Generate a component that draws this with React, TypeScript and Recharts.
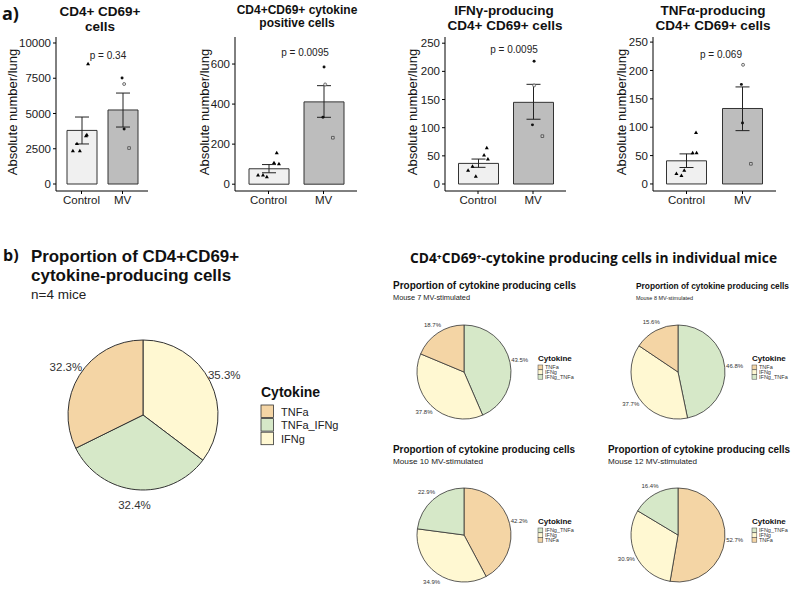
import React from 'react';
import { ComposedChart, Bar, XAxis, YAxis, ZAxis, Scatter, ErrorBar, Cell, PieChart, Pie } from 'recharts';

const FONT = '"Liberation Sans", Arial, Helvetica, sans-serif';

const groups = ['Control', 'MV'];

// a1: CD4+ CD69+ cells
const cellsMean = [3800, 5250];
const cellsLow = [2840, 4040];
const cellsHigh = [4750, 6450];
const cellsCtrl = [8510, 3475, 3400, 2840, 2340, 2340];
const cellsCtrlJitter = [0.16, 0.13, 0.11, -0.11, -0.21, -0.04];
const cellsMv = [7520, 7090, 3900, 2550];
const cellsMvJitter = [-0.01, 0.04, 0.04, 0.16];
const cellsMvShape = ['filled', 'open', 'filled', 'square'];
const cellsTicks = [0, 2500, 5000, 7500, 10000];

// a2: cytokine positive cells
const cytoMean = [77, 411];
const cytoLow = [57, 334];
const cytoHigh = [98, 492];
const cytoCtrl = [155, 106, 101, 44, 44, 36];
const cytoCtrlJitter = [0.15, 0.1, 0.19, -0.19, -0.1, -0.03];
const cytoMv = [585, 498, 334, 232];
const cytoMvJitter = [0.01, 0.03, -0.01, 0.17];
const cytoMvShape = ['filled', 'open', 'filled', 'square'];
const cytoTicks = [0, 200, 400, 600];

// a3: IFNg-producing
const ifngMean = [36.6, 145];
const ifngLow = [29.6, 115];
const ifngHigh = [44.3, 177];
const ifngCtrl = [64, 51, 44, 31, 24, 13];
const ifngCtrlJitter = [0.16, 0.11, 0.18, -0.1, -0.18, -0.04];
const ifngMv = [218, 175, 105, 85];
const ifngMvJitter = [0.02, 0.02, -0.01, 0.17];
const ifngMvShape = ['filled', 'open', 'filled', 'square'];

// a4: TNFa-producing
const tnfMean = [40.8, 133];
const tnfLow = [29, 94];
const tnfHigh = [53, 171];
const tnfCtrl = [90, 54.4, 54.4, 23.6, 17.7, 14.2];
const tnfCtrlJitter = [0.17, 0.11, 0.18, -0.04, -0.18, -0.09];
const tnfMv = [210, 175.5, 107.6, 35.5];
const tnfMvJitter = [0.01, -0.02, 0.0, 0.15];
const tnfMvShape = ['open', 'filled', 'filled', 'square'];

const smallTicks = [0, 50, 100, 150, 200, 250];

// b: pies
const pooledNames = ['IFNg', 'TNFa_IFNg', 'TNFa'];
const pooledValues = [35.3, 32.4, 32.3];
const mouse7Names = ['IFNg_TNFa', 'IFNg', 'TNFa'];
const mouse7Values = [43.5, 37.8, 18.7];
const mouse8Names = ['IFNg_TNFa', 'IFNg', 'TNFa'];
const mouse8Values = [46.8, 37.7, 15.6];
const mouse10Names = ['TNFa', 'IFNg', 'IFNg_TNFa'];
const mouse10Values = [42.2, 34.9, 22.9];
const mouse12Names = ['TNFa', 'IFNg', 'IFNg_TNFa'];
const mouse12Values = [52.7, 30.9, 16.4];

const pooledLegend = ['TNFa', 'TNFa_IFNg', 'IFNg'];
const legendA = ['TNFa', 'IFNg', 'IFNg_TNFa'];
const legendB = ['IFNg_TNFa', 'IFNg', 'TNFa'];

const COLORS: Record<string, string> = {
  TNFa: '#F4D5A5',
  IFNg: '#FFF8D2',
  IFNg_TNFa: '#D6E8C8',
  TNFa_IFNg: '#D6E8C8',
};

const BAR_FILL = ['#F0F0F0', '#BDBDBD'];

function BarPanel(props: any) {
  const { left, width, axisWidth, plotRight, pad, barSize, domain, ticks, mean, low, high, ctrl, ctrlJit, mv, mvJit, mvShape } = props;
  const data = groups.map((g, i) => ({ group: g, mean: mean[i], err: [mean[i] - low[i], high[i] - mean[i]] }));
  const ctrlPts = ctrl.map((v: number, i: number) => ({ x: 1 + ctrlJit[i], y: v }));
  const mvPts = mv.map((v: number, i: number) => ({ x: 2 + mvJit[i], y: v, s: mvShape[i] }));
  const right = left + width - plotRight;
  return (
    <div style={{ position: 'absolute', left, top: 0 }}>
      <ComposedChart width={width} height={215} data={data} margin={{ top: 37, right, bottom: 4, left: 0 }}>
        <XAxis xAxisId="cat" dataKey="group" type="category" padding={{ left: pad, right: pad }} height={20}
          tickSize={3} tickMargin={2} axisLine={{ stroke: '#000' }} tickLine={{ stroke: '#000' }}
          tick={{ fill: '#1a1a1a', fontSize: 11.5, fontFamily: FONT }} interval={0} />
        <XAxis xAxisId="num" dataKey="x" type="number" domain={[0.5, 2.5]} padding={{ left: pad, right: pad }} hide allowDataOverflow />
        <YAxis width={axisWidth} domain={domain} ticks={ticks} allowDataOverflow tickSize={3} tickMargin={2}
          axisLine={{ stroke: '#000' }} tickLine={{ stroke: '#000' }} interval={0}
          tick={{ fill: '#1a1a1a', fontSize: 11.5, fontFamily: FONT }} />
        <ZAxis range={[7, 7]} />
        <Bar xAxisId="cat" dataKey="mean" barSize={barSize} stroke="#333" strokeWidth={1} isAnimationActive={false}>
          {data.map((d, i) => <Cell key={d.group} fill={BAR_FILL[i]} />)}
          <ErrorBar dataKey="err" width={7} stroke="#222" strokeWidth={1} />
        </Bar>
        <Scatter xAxisId="num" data={ctrlPts} dataKey="y" shape="triangle" fill="#000" isAnimationActive={false} />
        <Scatter xAxisId="num" data={mvPts.filter((p: any) => p.s === 'filled')} dataKey="y" shape="circle" fill="#111" isAnimationActive={false} />
        <Scatter xAxisId="num" data={mvPts.filter((p: any) => p.s === 'open')} dataKey="y" shape="circle" fill="#e6e6e6" stroke="#555" strokeWidth={0.8} isAnimationActive={false} />
        <Scatter xAxisId="num" data={mvPts.filter((p: any) => p.s === 'square')} dataKey="y" shape="square" fill="#d0d0d0" stroke="#444" strokeWidth={0.8} isAnimationActive={false} />
      </ComposedChart>
    </div>
  );
}

const makeLabel = (factor: number, fontSize: number, color: string) => (p: any) => {
  const r = p.outerRadius * factor;
  const a = (-p.midAngle * Math.PI) / 180;
  return (
    <text x={p.cx + r * Math.cos(a)} y={p.cy + r * Math.sin(a)} textAnchor="middle" dominantBaseline="central"
      fontSize={fontSize} fill={color} fontFamily={FONT}>
      {Number(p.value).toFixed(1)}%
    </text>
  );
};

function PieBox(props: any) {
  const { cx, cy, r, names, values, factor, fontSize, strokeWidth } = props;
  const data = names.map((n: string, i: number) => ({ name: n, value: values[i] }));
  const w = r * 4;
  const h = r * 4;
  const left = cx - w / 2;
  const top = cy - h / 2;
  return (
    <div style={{ position: 'absolute', left, top }}>
      <PieChart width={w} height={h} margin={{ top: 0, right: 0, bottom: 0, left: 0 }}>
        <Pie data={data} dataKey="value" nameKey="name" cx={w / 2} cy={h / 2} outerRadius={r} innerRadius={0}
          startAngle={90} endAngle={-270} stroke="#333" strokeWidth={strokeWidth} labelLine={false}
          label={makeLabel(factor, fontSize, '#333')} isAnimationActive={false}>
          {data.map((d: any) => <Cell key={d.name} fill={COLORS[d.name]} />)}
        </Pie>
      </PieChart>
    </div>
  );
}

function SmallLegend({ x, y, items }: { x: number; y: number; items: string[] }) {
  return (
    <g fontFamily={FONT}>
      <text x={x} y={y} fontSize={8} fontWeight="bold" fill="#111">Cytokine</text>
      {items.map((it, i) => (
        <g key={it}>
          <rect x={x} y={y + 4 + i * 4.8} width={4.8} height={4.6} fill={COLORS[it]} stroke="#444" strokeWidth={0.5} />
          <text x={x + 7} y={y + 8.2 + i * 4.8} fontSize={5.5} fill="#333">{it}</text>
        </g>
      ))}
    </g>
  );
}

function SmallTitle({ x, y, title, sub, tw, sw, fs, ss }: any) {
  return (
    <g fontFamily={FONT}>
      <text x={x} y={y} fontSize={fs} fontWeight="bold" fill="#111" textLength={tw} lengthAdjust="spacingAndGlyphs">{title}</text>
      <text x={x} y={y + 11} fontSize={ss} fill="#222" textLength={sw} lengthAdjust="spacingAndGlyphs">{sub}</text>
    </g>
  );
}

export default function App() {
  const ylab = (x: number) => (
    <text x={x} y={112} transform={`rotate(-90 ${x} 112)`} textAnchor="middle" dominantBaseline="central" fontSize={13} fill="#111">
      Absolute number/lung
    </text>
  );
  return (
    <div style={{ position: 'absolute', left: 0, top: 0, width: 800, height: 589, background: '#fff', overflow: 'hidden', fontFamily: FONT }}>
      <BarPanel left={0} width={152} axisWidth={56} plotRight={148} pad={5} barSize={30} domain={[-496, 10425]} ticks={cellsTicks}
        mean={cellsMean} low={cellsLow} high={cellsHigh} ctrl={cellsCtrl} ctrlJit={cellsCtrlJitter} mv={cellsMv} mvJit={cellsMvJitter} mvShape={cellsMvShape} />
      <BarPanel left={200} width={160} axisWidth={35} plotRight={357} pad={6} barSize={40} domain={[-34, 735]} ticks={cytoTicks}
        mean={cytoMean} low={cytoLow} high={cytoHigh} ctrl={cytoCtrl} ctrlJit={cytoCtrlJitter} mv={cytoMv} mvJit={cytoMvJitter} mvShape={cytoMvShape} />
      <BarPanel left={400} width={170} axisWidth={45} plotRight={566} pad={5.5} barSize={40} domain={[-12.4, 261]} ticks={smallTicks}
        mean={ifngMean} low={ifngLow} high={ifngHigh} ctrl={ifngCtrl} ctrlJit={ifngCtrlJitter} mv={ifngMv} mvJit={ifngMvJitter} mvShape={ifngMvShape} />
      <BarPanel left={600} width={180} axisWidth={53} plotRight={776} pad={5.5} barSize={40} domain={[-12.4, 259]} ticks={smallTicks}
        mean={tnfMean} low={tnfLow} high={tnfHigh} ctrl={tnfCtrl} ctrlJit={tnfCtrlJitter} mv={tnfMv} mvJit={tnfMvJitter} mvShape={tnfMvShape} />

      <PieBox cx={143} cy={415} r={75} names={pooledNames} values={pooledValues} factor={1.21} fontSize={11.5} strokeWidth={1} />
      <PieBox cx={464} cy={372} r={47} names={mouse7Names} values={mouse7Values} factor={1.21} fontSize={6} strokeWidth={0.8} />
      <PieBox cx={678} cy={372} r={47} names={mouse8Names} values={mouse8Values} factor={1.21} fontSize={6} strokeWidth={0.8} />
      <PieBox cx={464} cy={535} r={47} names={mouse10Names} values={mouse10Values} factor={1.21} fontSize={6} strokeWidth={0.8} />
      <PieBox cx={678} cy={535} r={47} names={mouse12Names} values={mouse12Values} factor={1.21} fontSize={6} strokeWidth={0.8} />

      <svg width={800} height={589} style={{ position: 'absolute', left: 0, top: 0, pointerEvents: 'none' }} fontFamily={FONT}>
        <text x={2} y={20} fontSize={18} fontWeight="bold" fontFamily='"Open Sans", sans-serif' fill="#111">a)</text>
        <g fontWeight="bold" fill="#111" textAnchor="middle">
          <text x={100} y={16} fontSize={13.5}>CD4+ CD69+</text>
          <text x={100} y={31} fontSize={13.5}>cells</text>
          <text x={297} y={14} fontSize={12}>CD4+CD69+ cytokine</text>
          <text x={297} y={27} fontSize={12}>positive cells</text>
          <text x={504} y={15} fontSize={13.5}>IFNγ-producing</text>
          <text x={505} y={30} fontSize={13.5}>CD4+ CD69+ cells</text>
          <text x={713} y={15} fontSize={13.5}>TNFα-producing</text>
          <text x={713} y={30} fontSize={13.5}>CD4+ CD69+ cells</text>
        </g>
        <g fontSize={10} fill="#222" textAnchor="middle" dominantBaseline="central">
          <text x={108} y={55}>p = 0.34</text>
          <text x={305} y={52}>p = 0.0095</text>
          <text x={514} y={49}>p = 0.0095</text>
          <text x={721} y={54}>p = 0.069</text>
        </g>
        {ylab(12)}
        {ylab(204)}
        {ylab(412)}
        {ylab(621)}

        <text x={3} y={261} fontSize={16} fontWeight="bold" fontFamily='"Open Sans", sans-serif' fill="#111">b)</text>
        <text x={31} y={262} fontSize={17} fontWeight="bold" fill="#111" textLength={208} lengthAdjust="spacingAndGlyphs">Proportion of CD4+CD69+</text>
        <text x={31} y={280.5} fontSize={17} fontWeight="bold" fill="#111">cytokine-producing cells</text>
        <text x={31} y={299} fontSize={13.5} fill="#222">n=4 mice</text>

        <text x={261} y={397} fontSize={14} fontWeight="bold" fill="#111">Cytokine</text>
        {pooledLegend.map((it, i) => (
          <g key={it}>
            <rect x={261} y={405 + i * 13.6} width={12.5} height={12.5} fill={COLORS[it]} stroke="#333" strokeWidth={0.8} />
            <text x={281} y={415.5 + i * 13.6} fontSize={11} fill="#222">{it}</text>
          </g>
        ))}

        <text x={410} y={263} fontSize={14} fontWeight="bold" fontFamily='"Open Sans", sans-serif' fill="#111" textLength={367} lengthAdjust="spacingAndGlyphs">
          CD4⁺CD69⁺-cytokine producing cells in individual mice
        </text>

        <SmallTitle x={393} y={289} title="Proportion of cytokine producing cells" sub="Mouse 7 MV-stimulated" tw={183} sw={77} fs={10} ss={7.5} />
        <SmallTitle x={636} y={289} title="Proportion of cytokine producing cells" sub="Mouse 8 MV-stimulated" tw={153} sw={57} fs={8.4} ss={6.2} />
        <SmallTitle x={393} y={453} title="Proportion of cytokine producing cells" sub="Mouse 10 MV-stimulated" tw={182} sw={90} fs={10} ss={7.5} />
        <SmallTitle x={608} y={453} title="Proportion of cytokine producing cells" sub="Mouse 12 MV-stimulated" tw={182} sw={89} fs={10} ss={7.5} />

        <SmallLegend x={538} y={361} items={legendA} />
        <SmallLegend x={752} y={361} items={legendA} />
        <SmallLegend x={538} y={524} items={legendB} />
        <SmallLegend x={752} y={524} items={legendB} />
      </svg>
    </div>
  );
}
